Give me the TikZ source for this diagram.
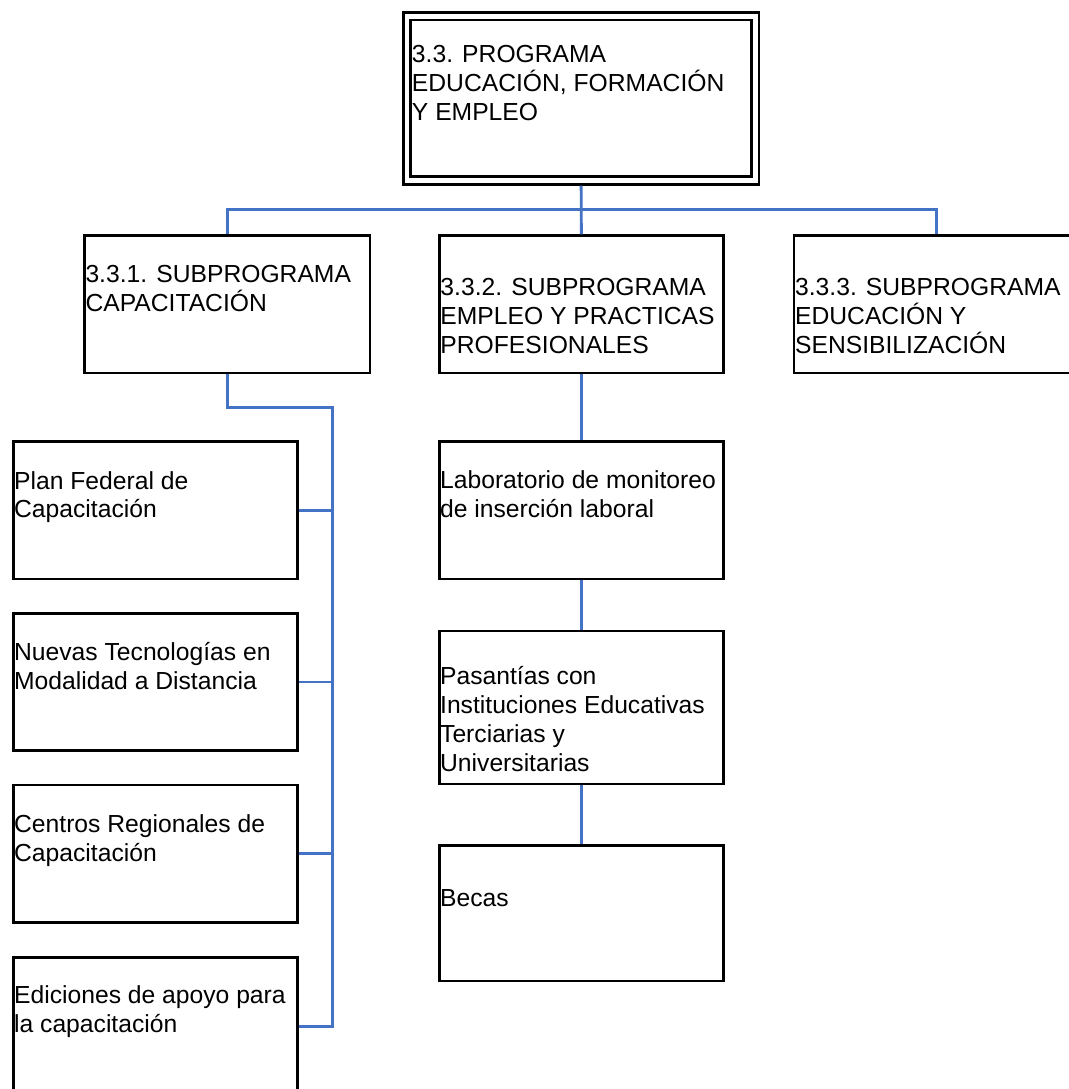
\documentclass[tikz,border=0pt]{standalone}
\usepackage{fontspec}
\setmainfont{Liberation Sans}
\usepackage{tikz}
\usetikzlibrary{positioning, calc}

\definecolor{linkblue}{RGB}{68,114,196}

\tikzset{
    box/.style={draw, line width=2.1pt, rectangle, inner sep=0pt,
        minimum width=213.3pt, minimum height=103pt},
    dbox/.style={draw, line width=2pt, double, double distance=3.6pt,
        rectangle, inner sep=0pt, outer sep=3.8pt},
    txt/.style={anchor=base west, align=left, inner sep=0pt,
        font=\fontsize{18.5pt}{21.6pt}\selectfont},
    link/.style={draw=linkblue, line width=2.2pt}
}

\begin{document}
\begin{tikzpicture}[x=0.75pt, y=-0.75pt]
    \clip (0,0) rectangle (1069,1089);

    % program and subprograms
    \node[dbox, minimum width=261.2pt, minimum height=123.2pt] (P) at (581.2,98.4) {};
    \node[box, minimum width=214.3pt] (S1) at (227.2,304.35) {};
    \node[box, minimum width=213pt] (S2) at (581.3,304.35) {};
    \node[box, minimum width=213.8pt] (S3) at (936.5,304.35) {};

    % left column
    \node[box] (A1) at (155.5,510.35) {};
    \node[box] (A2) at (155.5,682) {};
    \node[box] (A3) at (155.5,853.65) {};
    \node[box] (A4) at (155.5,1026.35) {};

    % middle column
    \node[box, minimum width=213pt] (B1) at (581.3,510.35) {};
    \node[box, minimum width=213pt, minimum height=114.75pt] (B2) at (581.3,707.5) {};
    \node[box, minimum width=213pt, minimum height=101.5pt] (B3) at (581.3,913.35) {};

    % texts (base = last line)
    \node[txt] (tP) at ([shift={(9.7,109)}]P.north west)
        {3.3. PROGRAMA\\EDUCACIÓN, FORMACIÓN\\Y EMPLEO};
    \node[txt] (tS1) at ([shift={(2.3,77.4)}]S1.north west)
        {3.3.1. SUBPROGRAMA\\CAPACITACIÓN};
    \node[txt] (tS2) at ([shift={(2.3,118.9)}]S2.north west)
        {3.3.2. SUBPROGRAMA\\EMPLEO Y PRACTICAS\\PROFESIONALES};
    \node[txt] (tS3) at ([shift={(2.3,118.9)}]S3.north west)
        {3.3.3. SUBPROGRAMA\\EDUCACIÓN Y\\SENSIBILIZACIÓN};
    \node[txt] (tA1) at ([shift={(2,77.7)}]A1.north west)
        {Plan Federal de\\Capacitación};
    \node[txt] (tA2) at ([shift={(2,77.8)}]A2.north west)
        {Nuevas Tecnologías en\\Modalidad a Distancia};
    \node[txt] (tA3) at ([shift={(2,77.8)}]A3.north west)
        {Centros Regionales de\\Capacitación};
    \node[txt] (tA4) at ([shift={(2,76.1)}]A4.north west)
        {Ediciones de apoyo para\\la capacitación};
    \node[txt] (tB1) at ([shift={(2,77.4)}]B1.north west)
        {Laboratorio de monitoreo\\de inserción laboral};
    \node[txt] (tB2) at ([shift={(2,141.7)}]B2.north west)
        {Pasantías con\\Instituciones Educativas\\Terciarias y\\Universitarias};
    \node[txt] (tB3) at ([shift={(2,62.3)}]B3.north west)
        {Becas};

    % connectors
    \draw[link] (P.south) -- (S2.north);
    \draw[link] (S1.north) |- ([yshift=-18pt]P.south) -| (S3.north);
    \coordinate (trunk) at (332.5,407.7);
    \draw[link] (S1.south) |- (trunk) -- (trunk |- A4.east) -- (A4.east);
    \foreach \a in {A1,A2,A3}
        \draw[link] (\a.east) -- (\a.east -| trunk);
    \draw[link] (S2.south) -- (B1.north);
    \draw[link] (B1.south) -- (B2.north);
    \draw[link] (B2.south) -- (B3.north);

\end{tikzpicture}
\end{document}
